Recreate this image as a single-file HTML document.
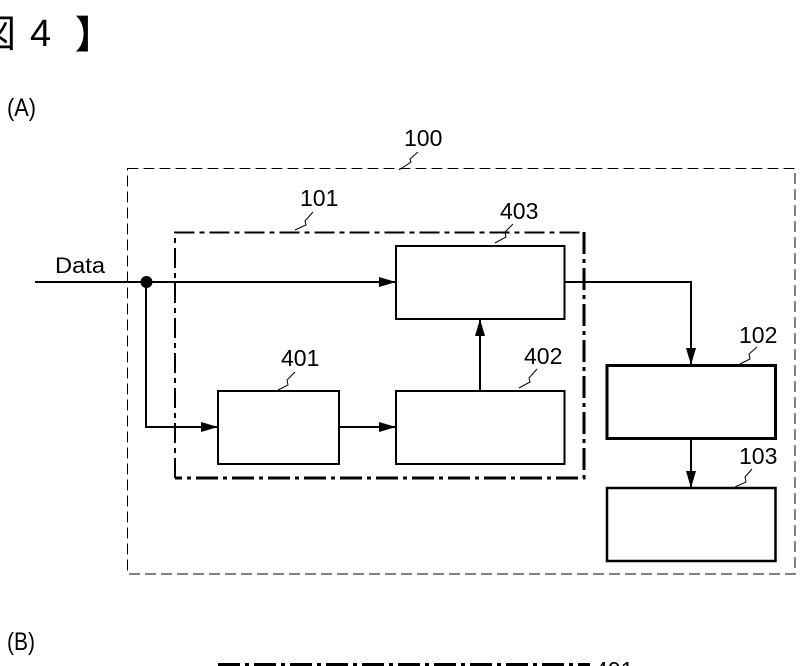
<!DOCTYPE html>
<html>
<head>
<meta charset="utf-8">
<style>
html,body{margin:0;padding:0;background:#fff;width:802px;height:666px;overflow:hidden}
svg{display:block}
text{font-family:"Liberation Sans","Noto Sans CJK JP",sans-serif;fill:#000}
.n{font-size:23px}
</style>
</head>
<body>
<svg width="802" height="666" viewBox="0 0 802 666" xmlns="http://www.w3.org/2000/svg">
<!-- title -->
<text x="-24" y="47" font-size="38" style="font-family:'Noto Sans CJK JP',sans-serif" transform="translate(2 0)">図</text>
<text x="30" y="46" font-size="38">4</text>
<text x="58" y="48" font-size="38" font-weight="700" style="font-family:'Noto Sans CJK JP',sans-serif" transform="translate(17 0)">】</text>
<text x="7" y="116" font-size="25" textLength="29" lengthAdjust="spacingAndGlyphs">(A)</text>
<text x="7" y="650" font-size="25" textLength="28" lengthAdjust="spacingAndGlyphs">(B)</text>

<!-- outer dashed -->
<rect x="127.500" y="168.500" width="667.500" height="405.500" fill="none" stroke="#000" stroke-width="1" stroke-dasharray="11 5" shape-rendering="crispEdges"/>
<!-- dash-dot -->
<path d="M175 478V232.500H584" fill="none" stroke="#000" stroke-width="2" stroke-dasharray="20 5 5 5"/>
<path d="M584 232V478H175" fill="none" stroke="#000" stroke-width="3" stroke-dasharray="22 5 4 5"/>
<path d="M218 664.500H590" fill="none" stroke="#000" stroke-width="3" stroke-dasharray="22 5 4 5"/>

<!-- boxes -->
<g fill="#fff" stroke="#000">
<rect x="396" y="246" width="168.500" height="73" stroke-width="2"/>
<rect x="218" y="391" width="121" height="73" stroke-width="2"/>
<rect x="396" y="391" width="168.500" height="73" stroke-width="2"/>
<rect x="607" y="365.500" width="168.500" height="73" stroke-width="3"/>
<rect x="607" y="488" width="168.500" height="73" stroke-width="2.500"/>
</g>

<!-- connectors -->
<g fill="none" stroke="#000" stroke-width="2">
<path d="M35 282H396"/>
<path d="M146 282V427H218"/>
<path d="M339 427H396"/>
<path d="M480 391V319"/>
<path d="M564 282H691V365"/>
<path d="M691 438V488"/>
</g>
<circle cx="146.500" cy="282" r="6" fill="#000"/>
<g fill="#000">
<path d="M379 277L396 282L379 287Z"/>
<path d="M201 422L218 427L201 432Z"/>
<path d="M379 422L396 427L379 432Z"/>
<path d="M475 336L480 319L485 336Z"/>
<path d="M686 348L691 365L696 348Z"/>
<path d="M686 471L691 488L696 471Z"/>
</g>

<!-- leaders -->
<g fill="none" stroke="#000" stroke-width="1">
<path d="M399 170L411 162L410 159L418 152"/>
<path d="M295 230L306 225L305 221L313 212"/>
<path d="M495 243L506 237L505 232L513 224"/>
<path d="M278 390L288 385L287 380L295 372"/>
<path d="M519 388L530 382L529 378L537 369"/>
<path d="M740 364L750 359L749 354L757 347"/>
<path d="M735 487L746 482L745 477L752 469"/>
</g>

<!-- labels -->
<text x="55" y="273" font-size="22" textLength="50" lengthAdjust="spacingAndGlyphs">Data</text>
<text class="n" x="404" y="146">100</text>
<text class="n" x="300" y="206">101</text>
<text class="n" x="500" y="219">403</text>
<text class="n" x="281" y="366">401</text>
<text class="n" x="524" y="364">402</text>
<text class="n" x="739" y="343">102</text>
<text class="n" x="739" y="464">103</text>
<text class="n" x="595" y="678">401</text>
</svg>
</body>
</html>
